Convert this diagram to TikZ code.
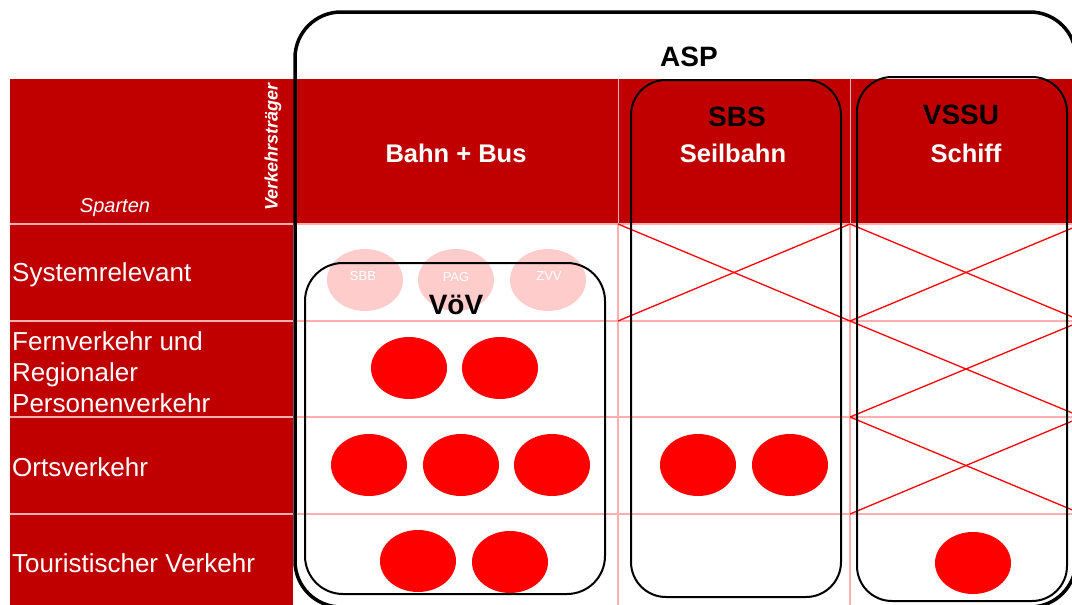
\documentclass[tikz,border=0pt]{standalone}
\usepackage{fontspec}
\setmainfont{Liberation Sans}
\usetikzlibrary{shapes.geometric}
\definecolor{dred}{RGB}{192,0,0}
\definecolor{gridc}{RGB}{255,175,175}
\definecolor{lpink}{RGB}{255,204,204}
\definecolor{bred}{RGB}{255,0,0}
\begin{document}
\begin{tikzpicture}[x=1pt,y=-1pt,
  redell/.style={ellipse,fill=bred,draw=none,minimum width=76pt,minimum height=62pt,inner sep=0pt},
  pinkell/.style={ellipse,fill=lpink,draw=none,minimum width=76pt,minimum height=62pt,inner sep=0pt},
  smalllabel/.style={inner sep=0pt,text=white,font=\fontsize{13}{15}\selectfont},
  gridline/.style={draw=gridc,line width=1.2pt},
  crossline/.style={draw=bred,line width=1.3pt},
  bigbox/.style={draw=black,line width=2pt},
  rowlabel/.style={anchor=west,inner sep=0pt,text=white,align=left,font=\fontsize{26}{31}\selectfont},
  headlabel/.style={inner sep=0pt,text=white,font=\bfseries\fontsize{25.5}{30}\selectfont},
  titlelabel/.style={inner sep=0pt,text=black,font=\bfseries\fontsize{28}{32}\selectfont}]
\useasboundingbox (0,0) rectangle (1072,605);
\clip (0,0) rectangle (1072,605);
\fill[white] (0,0) rectangle (1072,605);
% red areas
\fill[dred] (10,79) rectangle (1072,224);
\fill[dred] (10,224) rectangle (293,605);
% header separators
\draw[draw=white!70!dred,line width=1pt] (618,79) -- (618,224);
\draw[draw=white!70!dred,line width=1pt] (850,79) -- (850,224);
% grid
\draw[gridline] (10,224) -- (1072,224);
\draw[gridline] (10,321) -- (1072,321);
\draw[gridline] (10,417) -- (1072,417);
\draw[gridline] (10,514) -- (1072,514);
\draw[gridline] (618,224) -- (618,605);
\draw[gridline] (850,224) -- (850,605);
% crosses
\coordinate (a1) at (618,224); \coordinate (a2) at (850,321);
\coordinate (a3) at (618,321); \coordinate (a4) at (850,224);
\draw[crossline] (a1) -- (a2);
\draw[crossline] (a3) -- (a4);
\foreach \t/\b in {224/321,321/417,417/514}{
  \draw[crossline] (850,\t) -- (1082,\b);
  \draw[crossline] (850,\b) -- (1082,\t);
}
% pink ellipses
\node[pinkell] (sbb) at (365,280) {};
\node[pinkell] (pag) at (456,280) {};
\node[pinkell] (zvv) at (548,280) {};
\node[smalllabel] (tsbb) at (363,276) {SBB};
\node[smalllabel] (tpag) at (456,277) {PAG};
\node[smalllabel] (tzvv) at (549,276) {ZVV};
% red ellipses
\node[redell] (f1) at (409,368) {};
\node[redell] (f2) at (500,368) {};
\node[redell] (o1) at (369,465) {};
\node[redell] (o2) at (461,465) {};
\node[redell] (o3) at (552,465) {};
\node[redell] (o4) at (698,465) {};
\node[redell] (o5) at (790,465) {};
\node[redell] (t1) at (418,561) {};
\node[redell] (t2) at (510,562) {};
\node[redell] (t3) at (973,563) {};
% boxes
\draw[bigbox,line width=3.5pt,rounded corners=46pt] (295,12) rectangle (1076,607);
\draw[bigbox,rounded corners=38pt] (305,263) rectangle (605,594);
\draw[bigbox,rounded corners=35pt] (631,80) rectangle (841,597);
\draw[bigbox,rounded corners=35pt] (857,77) rectangle (1067,601);
% texts
\node[titlelabel] (asp) at (689,57) {ASP};
\node[headlabel] (bahn) at (456,153) {Bahn + Bus};
\node[titlelabel] (sbs) at (737,117) {SBS};
\node[headlabel] (seil) at (733,153) {Seilbahn};
\node[titlelabel] (vssu) at (961,115) {VSSU};
\node[headlabel] (schiff) at (966,153) {Schiff};
\node[titlelabel] (vov) at (456,305) {VöV};
\node[inner sep=0pt,text=white,font=\itshape\fontsize{20}{23}\selectfont] (sparten) at (115,208) {Sparten};
\node[inner sep=0pt,text=white,rotate=90,font=\bfseries\itshape\fontsize{18}{21}\selectfont] (vt) at (273,147) {Verkehrsträger};
\node[rowlabel] (r1) at (12,275) {Systemrelevant};
\node[rowlabel] (r2) at (12,372) {Fernverkehr und\\Regionaler\\Personenverkehr};
\node[rowlabel] (r3) at (12,467) {Ortsverkehr};
\node[rowlabel] (r4) at (12,563) {Touristischer Verkehr};
\end{tikzpicture}
\end{document}
